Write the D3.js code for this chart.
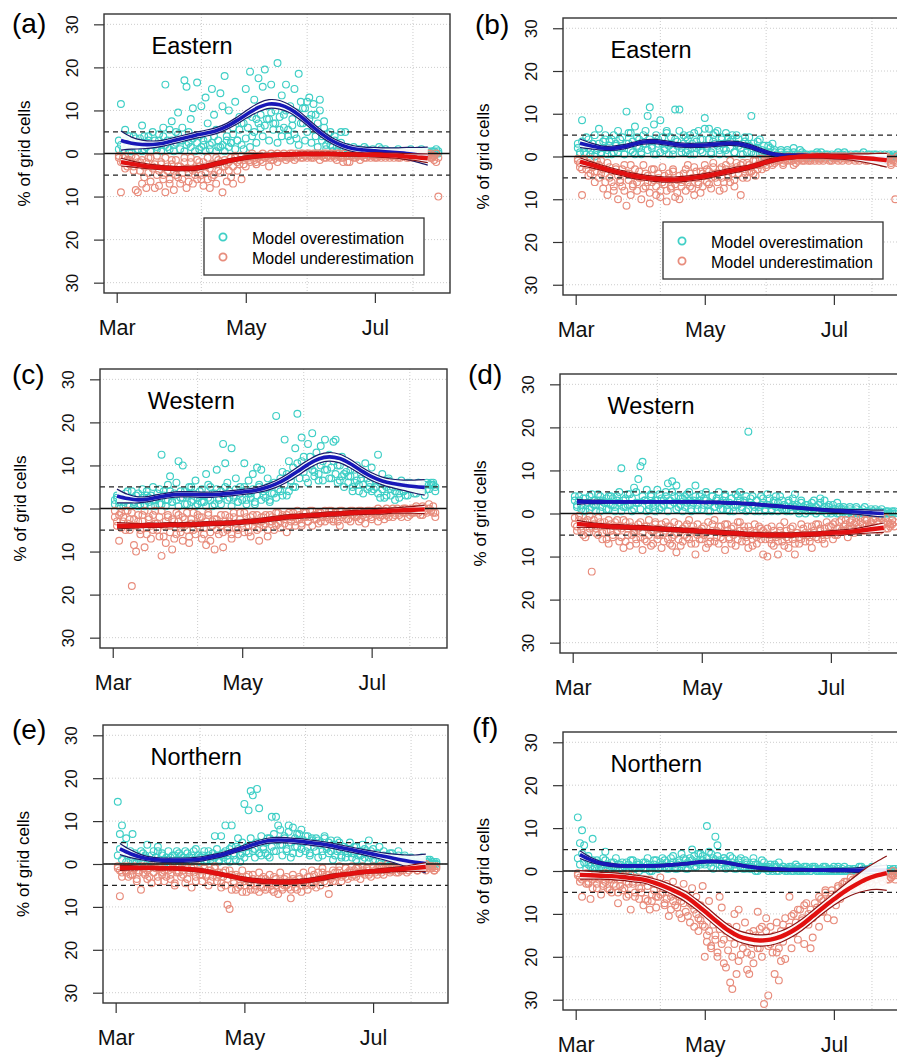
<!DOCTYPE html>
<html lang="en">
<head>
<meta charset="UTF-8">
<title>Model over- and underestimation by region</title>
<script src="https://cdnjs.cloudflare.com/ajax/libs/d3/7.8.5/d3.min.js"></script>
<style>
    body { margin: 0; background: #ffffff; }
    svg { display: block; font-family: "Liberation Sans", Arial, sans-serif; }
    .grid line { stroke: #cccccc; stroke-dasharray: 1,2; stroke-width: 1; }
    .axis path { display: none; }
    .axis line { stroke: #333; stroke-width: 1.2; }
    .axis text { fill: #111; }
    .frame { fill: none; stroke: #333; stroke-width: 1.4; }
</style>
</head>
<body>
<svg id="chart" width="897" height="1060"></svg>
<script>
    // x is day of year; two observations per day and series (two station sets)
    var obsDays = d3.range(61, 213);
    var fitDays = d3.range(62, 208, 5);
    var monthDays = [60, 121, 182];
    var monthLabels = ["Mar", "May", "Jul"];
    var yTicks = [-30, -20, -10, 0, 10, 20, 30];
    var gridDays = [100, 150, 200];
    var refLevels = [-5, 5];
    var legendLabels = ["Model overestimation", "Model underestimation"];

    // (a) Eastern
    var overA = [3, 11.5, 1, 5.5, 2, 0.5, 1.5, 4, 2.5, 1,
        3.5, 6.5, 1, 2, 4, 0.5, 2, 3, 1.5, 4.5,
        2, 6, 16, 3, 1, 7.5, 2, 5, 9.5, 3,
        6, 17, 15.5, 2.5, 8, 10.5, 4, 16.5, 1, 11,
        3, 13, 7, 2, 15, 9, 5.5, 1.5, 14, 11,
        18, 4, 10, 2.5, 6, 12, 3, 8.5, 7, 1,
        15, 9, 19, 4, 12.5, 8, 17.5, 6, 15.5, 19.5,
        11, 8, 16, 7, 10, 21, 5.5, 13.5, 9, 16,
        4, 11, 6.5, 15, 3.5, 18.5, 12, 7, 10.5, 5,
        13, 9, 11.5, 4, 7, 10, 3, 6, 2, 4.5,
        5, 1.5, 3, 0.5, 2, 5, 1, 0.5, 1.5, 0,
        1, 0.5, 0, 1, 0.5, 0, 0.5, 1, 0, 0.5,
        0, 0.5, 0, 0, 1, 0.5, 0, 0, 0.5, 0,
        0, 0.5, 0, 0, 0.5, 0, 0, 0.5, 0, 0,
        0.5, 0, 0, 0, 0.5, 0, 0, 0, 0.5, 0,
        0, 0.5];
    var over2A = [1, 2, 0.5, 3, 1.5, 4, 0.5, 2, 3.5, 1,
        2.5, 0.5, 4, 1.5, 3, 0.5, 5, 2, 1, 3,
        0.5, 4, 2, 1.5, 5.5, 3, 0.5, 2.5, 4.5, 1,
        3, 0.5, 2, 5, 1.5, 3.5, 0.5, 2.5, 4, 1.5,
        2, 0.5, 3.5, 1, 2.5, 4, 0.5, 3, 1.5, 2,
        0.5, 3, 1.5, 2.5, 4.5, 1, 3, 5.5, 2, 7,
        3.5, 6, 1.5, 8.5, 5, 2.5, 7, 9, 4, 6.5,
        8, 3, 9.5, 5.5, 7, 2.5, 8.5, 4, 6, 10,
        5.5, 3, 8, 4.5, 9.5, 2, 7, 10.5, 3, 12,
        8, 2.5, 5.5, 9, 1.5, 12.5, 4, 7.5, 1, 3,
        2, 0.5, 4, 1.5, 0, 2.5, 0.5, 5, 1, 0,
        0.5, 1.5, 0, 0.5, 1, 0, 1.5, 0, 0.5, 0,
        1, 0, 0.5, 1.5, 0, 0, 1, 0.5, 0, 0,
        0.5, 0, 1, 0, 0, 0.5, 0, 0, 1, 0,
        0, 0.5, 0, 1, 0, 0, 0.5, 0, 0, 0.5,
        1, 0];
    var underA = [-1, -9, -2, -0.5, -3, -1.5, -2, -4, -8.5, -9,
        -2, -7, -5.5, -8, -1, -6.5, -3, -8, -5, -7.5,
        -2.5, -6, -9, -4, -7, -1.5, -8.5, -5, -3, -7,
        -6, -2, -8, -4.5, -1, -7, -3.5, -6, -2, -5,
        -7.5, -3, -6, -8, -2.5, -5, -7, -1.5, -4.5, -9,
        -3, -6.5, -2, -5.5, -7, -1, -4, -2.5, -6, -1.5,
        -3, -1, -2, -0.5, -1.5, -2.5, -1, -0.5, -2, -1,
        -0.5, -3, -1.5, -0.5, -1, -2, -0.5, -1, -0.5, -1.5,
        -0.5, -1, 0, -0.5, -1, -0.5, 0, -1, -0.5, 0,
        -0.5, -1, 0, -0.5, 0, -1.5, -0.5, 0, -1, -0.5,
        0, -0.5, -1, 0, -0.5, -1, -2, 0, -0.5, -2,
        -0.5, 0, -1, -0.5, 0, -0.5, -1, 0, -0.5, -1,
        0, -0.5, -1, 0, -0.5, 0, -1, -0.5, 0, -0.5,
        -1, 0, -0.5, -1, 0, -0.5, 0, -1, -0.5, 0,
        -0.5, -1, 0, -0.5, -1, -0.5, 0, -1, -0.5, -1.5,
        -2, -10];
    var under2A = [-0.5, -2, -1, -3.5, -1.5, -2.5, -0.5, -3, -1, -2,
        -4, -1.5, -3, -2, -4.5, -1, -3.5, -2.5, -0.5, -4,
        -2, -5, -1, -3, -6, -2.5, -4, -1.5, -5.5, -3,
        -4.5, -1, -3.5, -6.5, -2, -4, -5, -1.5, -3, -6,
        -2, -4.5, -1, -3.5, -5.5, -2.5, -1, -4, -2, -3,
        -1.5, -2.5, -4, -1, -3, -0.5, -2, -1.5, -0.5, -2.5,
        -1, -0.5, -1.5, 0, -1, -2, -0.5, -1.5, 0, -1,
        -0.5, -1, 0, -1.5, -0.5, 0, -1, -0.5, 0, -0.5,
        -1, 0, -0.5, -1.5, 0, -0.5, -1, 0, -0.5, -1,
        0, -0.5, -1, 0, -0.5, 0, -0.5, -1, 0, -0.5,
        -1, 0, -0.5, -1.5, 0, -0.5, -1, 0, -2, -0.5,
        0, -1, -0.5, 0, -1.5, -0.5, 0, -1, -0.5, 0,
        -0.5, -1, 0, -0.5, -1, 0, -0.5, 0, -1, -0.5,
        0, -0.5, -1, 0, -0.5, 0, -1, -0.5, 0, -1,
        -0.5, 0, -1, -0.5, 0, -1, -0.5, 0, -1, -0.5,
        0, -1];
    var fitOverA = [3.0, 2.4, 2.1, 2.1, 2.4, 3.0, 3.6, 4.2, 4.7, 5.3, 6.3, 7.7, 9.3, 10.7, 11.5, 11.3, 10.3, 8.6, 6.5, 4.5, 2.9, 1.8, 1.1, 0.8, 0.6, 0.4, 0.2, 0.0, -0.3, -0.6];
    var bandOverA = [2.2, 1.4, 1.0, 0.8, 0.7, 0.7, 0.7, 0.7, 0.7, 0.7, 0.7, 0.8, 0.9, 1.0, 1.0, 1.0, 0.9, 0.9, 0.8, 0.8, 0.7, 0.7, 0.7, 0.7, 0.8, 0.9, 1.1, 1.4, 1.7, 2.1];
    var fitUnderA = [-2.0, -2.4, -2.8, -3.1, -3.3, -3.5, -3.5, -3.4, -3.0, -2.4, -1.8, -1.3, -0.9, -0.6, -0.4, -0.3, -0.2, -0.1, -0.1, -0.1, -0.1, -0.2, -0.2, -0.3, -0.3, -0.4, -0.5, -0.7, -0.9, -1.1];
    var bandUnderA = [0.9, 0.7, 0.6, 0.5, 0.5, 0.5, 0.5, 0.5, 0.5, 0.5, 0.5, 0.4, 0.4, 0.4, 0.4, 0.4, 0.4, 0.4, 0.4, 0.4, 0.4, 0.4, 0.4, 0.4, 0.5, 0.5, 0.6, 0.7, 0.8, 1.0];

    // (b) Eastern
    var overB = [3, 1, 8.5, 2, 0.5, 4, 1.5, 3, 0, 2,
        6.5, 1, 3.5, 5, 0.5, 2.5, 4, 1, 3, 6,
        2, 4.5, 0.5, 10.5, 3, 5.5, 1, 7, 2.5, 4,
        1, 5, 3, 9.5, 11.5, 2, 7.5, 0.5, 4, 8.5,
        3, 1.5, 6, 2.5, 4.5, 0.5, 11, 3.5, 11, 2,
        5, 1, 4, 0.5, 3, 5.5, 2, 6, 1.5, 4,
        9, 2.5, 6.5, 0.5, 5, 3, 6, 1.5, 4.5, 2,
        5.5, 0.5, 3.5, 4, 1, 5, 2.5, 0.5, 3, 4.5,
        1, 2.5, 9.5, 0.5, 2, 3.5, 0.5, 1.5, 0, 1,
        2.5, 0, 3, 1, 0.5, 0, 1.5, 0.5, 0, 1,
        0.5, 0, 2, 0.5, 0, 1.5, 0.5, 0, 0.5, 0,
        0, 0.5, 0, 1, 0.5, 0, 0, 0.5, 0, 0,
        0.5, 0, 0, 1, 0.5, 0, 0, 0.5, 0, 0,
        0, 0.5, 0, 0, 0.5, 0, 0, 0, 0.5, 0,
        0, 0.5, 0, 0, 0, 0.5, 0, 0, 0, 0.5,
        0, 0];
    var over2B = [2, 0.5, 3.5, 1, 4.5, 2, 0.5, 3, 5, 1.5,
        3, 0.5, 2, 4, 1.5, 3.5, 0.5, 5, 2.5, 1,
        4, 2, 0.5, 3, 5.5, 1.5, 3.5, 0.5, 4.5, 2,
        0.5, 3, 6, 1.5, 4, 2.5, 0.5, 5, 3, 1,
        4.5, 2, 5.5, 0.5, 3, 1.5, 4, 2.5, 6, 1,
        3, 4.5, 1.5, 5, 2, 0.5, 3.5, 2.5, 4, 1,
        6.5, 2, 4, 1, 3.5, 5.5, 2.5, 0.5, 4, 3,
        1.5, 4.5, 2, 5, 1, 3, 4, 2, 0.5, 3.5,
        2.5, 4.5, 1, 3, 0.5, 2, 4, 1, 2.5, 0.5,
        1, 2, 0, 1.5, 0.5, 0, 1, 0, 0.5, 1.5,
        0, 0.5, 1, 0, 0.5, 0, 1, 0.5, 0, 0,
        0.5, 0, 0, 0.5, 0, 1, 0, 0, 0.5, 0,
        0, 0, 0.5, 0, 0, 0.5, 1, 0, 0, 0.5,
        0, 0, 0.5, 0, 0, 1, 0, 0.5, 0, 0,
        0.5, 0, 0, 0.5, 0, 0, 0, 0.5, 0, 0,
        0, 0.5];
    var underB = [-1, -2.5, -9, -0.5, -3, -1.5, -4, -2, -6, -3.5,
        -5, -1, -7.5, -4, -9, -2.5, -6, -8, -3, -10,
        -5.5, -7, -2, -11.5, -4, -9, -6.5, -3, -8, -5,
        -10, -2, -7, -4.5, -11, -6, -3, -9, -5, -8,
        -2.5, -6.5, -10.5, -4, -7, -3, -9.5, -5.5, -10, -6,
        -4, -8, -2, -7, -5, -9, -3.5, -6, -8.5, -4,
        -2, -6, -3.5, -7.5, -1.5, -5, -4, -8, -2.5, -6,
        -3, -5, -1, -4, -7, -2.5, -3, -9, -1.5, -4,
        -5, -2, -3.5, -1, -4.5, -2, -0.5, -3, -1, -2,
        -0.5, -1.5, -0.5, -1, 0, -1, -0.5, -2, -1, 0,
        -0.5, -1, -2, -0.5, -1, 0, -0.5, -1, 0, -0.5,
        -1, 0, -0.5, 0, -1, -0.5, 0, -0.5, 0, -1,
        0, -0.5, 0, -1, -0.5, 0, 0, -0.5, -1, 0,
        -0.5, 0, 0, -1, 0, -0.5, 0, -1, -0.5, 0,
        -0.5, -1, 0, -0.5, -1.5, 0, -0.5, -1, -2, -1,
        -10, -1.5];
    var under2B = [-0.5, -1.5, -3, -1, -2, -4.5, -0.5, -2.5, -3.5, -1,
        -2, -4, -3, -6, -1.5, -5, -3.5, -7, -2.5, -4.5,
        -6, -3, -8, -4, -5.5, -2, -7, -4.5, -6, -3.5,
        -5, -7.5, -4, -6, -8.5, -3, -5.5, -7, -4, -9.5,
        -6, -4.5, -8, -5, -7.5, -3.5, -6.5, -8.5, -4.5, -7,
        -5.5, -3, -6, -4, -7.5, -2.5, -5, -6.5, -3.5, -7,
        -4.5, -3, -6.5, -5, -2.5, -4, -6, -3, -5, -7.5,
        -2, -4.5, -6, -3, -5.5, -1.5, -4, -2, -5, -3,
        -1.5, -3.5, -2.5, -4, -1, -3, -2, -0.5, -1.5, -2.5,
        -1, -0.5, -2, -1.5, -0.5, -1, 0, -1.5, -0.5, -1,
        0, -1, -0.5, -1.5, 0, -0.5, -1, 0, -0.5, -1,
        -0.5, 0, -1, 0, -0.5, 0, -1, -0.5, 0, -0.5,
        -1, 0, -0.5, 0, 0, -1, -0.5, 0, -0.5, 0,
        0, -1, -0.5, 0, -0.5, 0, -1, 0, 0, -0.5,
        -1, 0, -0.5, 0, -0.5, -1, 0, -0.5, -1.5, -0.5,
        -1, 0];
    var fitOverB = [3.1, 2.5, 2.0, 1.9, 2.2, 2.8, 3.4, 3.5, 3.2, 2.8, 2.6, 2.6, 2.7, 2.9, 3.1, 3.0, 2.4, 1.5, 0.7, 0.3, 0.2, 0.2, 0.1, 0.1, 0.0, 0.0, -0.1, -0.2, -0.3, -0.5];
    var bandOverB = [1.0, 0.7, 0.5, 0.5, 0.5, 0.5, 0.5, 0.5, 0.5, 0.5, 0.5, 0.5, 0.5, 0.5, 0.5, 0.5, 0.5, 0.5, 0.4, 0.4, 0.4, 0.4, 0.4, 0.4, 0.5, 0.5, 0.6, 0.7, 0.9, 1.2];
    var fitUnderB = [-1.2, -1.9, -2.6, -3.3, -3.9, -4.5, -4.9, -5.2, -5.4, -5.4, -5.2, -4.9, -4.5, -4.0, -3.5, -3.0, -2.5, -1.8, -1.0, -0.5, -0.2, 0.0, 0.1, 0.1, 0.0, -0.1, -0.2, -0.4, -0.6, -0.9];
    var bandUnderB = [0.9, 0.7, 0.6, 0.6, 0.6, 0.6, 0.6, 0.6, 0.6, 0.6, 0.6, 0.6, 0.6, 0.6, 0.6, 0.6, 0.5, 0.5, 0.5, 0.4, 0.4, 0.4, 0.4, 0.5, 0.5, 0.6, 0.8, 1.0, 1.3, 1.6];

    // (c) Western
    var overC = [2, 3, 1.5, 2.5, 0.5, 3.5, 1, 2, 4, 1.5,
        3, 0.5, 2, 4.5, 1, 3, 2.5, 0.5, 5, 2,
        3.5, 1, 12.5, 4, 2, 5.5, 7.5, 1.5, 3, 6,
        11, 2.5, 10, 4, 1, 3.5, 5, 2, 6.5, 1,
        3, 4.5, 1.5, 8, 2.5, 5, 0.5, 3.5, 9, 2,
        4, 15, 10.5, 6, 2.5, 14, 3, 7, 1.5, 5,
        4, 10.5, 2, 6.5, 3.5, 8, 1, 9.5, 5, 9,
        3, 4.5, 7, 2, 5.5, 3.5, 21.5, 6, 4, 8.5,
        16, 3, 11, 7.5, 5, 14, 22, 9, 16.5, 12,
        7, 15, 10, 17.5, 8.5, 13, 6.5, 14.5, 11, 16,
        9, 12.5, 7, 15.5, 16, 10, 6.5, 12, 8, 11,
        7.5, 9, 4, 6, 10, 5.5, 8, 3.5, 10.5, 7,
        5, 9.5, 4.5, 6.5, 12.5, 2.5, 8, 5.5, 3, 7,
        4.5, 6, 2, 5, 3.5, 6.5, 4, 5.5, 3, 6,
        4.5, 5, 3.5, 6, 5, 4, 5.5, 6, 4.5, 5.5,
        6, 5];
    var over2C = [1, 2.5, 0.5, 3, 1.5, 2, 4, 0.5, 2.5, 1,
        2, 3.5, 1, 2.5, 0.5, 4, 1.5, 3, 2, 0.5,
        2.5, 4.5, 1, 3, 0.5, 2, 4, 1.5, 3.5, 2,
        0.5, 4, 2.5, 1, 3, 5, 1.5, 3.5, 0.5, 2.5,
        4, 1.5, 3, 0.5, 5.5, 2, 3.5, 1, 4.5, 2.5,
        1, 3, 5, 2, 4, 0.5, 2.5, 4.5, 1.5, 3.5,
        2, 5, 1, 3.5, 2.5, 4.5, 1.5, 3, 5.5, 2,
        4, 2.5, 5, 1.5, 3.5, 6, 2.5, 4.5, 7, 3,
        5.5, 8, 4, 6.5, 9.5, 5, 10.5, 7, 11, 8.5,
        10, 6, 12, 9, 7.5, 11.5, 8, 10, 6.5, 9,
        12, 7, 9.5, 11, 8, 6, 10, 7.5, 5, 8.5,
        6, 7.5, 5, 9, 6.5, 4, 7, 5.5, 8, 4.5,
        6, 4, 7, 5, 3.5, 6, 4.5, 2.5, 5, 6.5,
        3, 5, 4, 6, 2.5, 5.5, 4, 3, 6, 4.5,
        5, 3.5, 4.5, 6, 4, 5, 3, 4.5, 5.5, 6,
        5.5, 4];
    var underC = [-2, -4, -7.5, -1, -3, -5, -0.5, -2.5, -18, -8.5,
        -10, -3, -6, -1.5, -9, -4.5, -2, -7, -5, -0.5,
        -3.5, -6.5, -11, -4, -8, -2, -5.5, -9.5, -3, -6,
        -1.5, -4.5, -7.5, -2.5, -5, -8, -3.5, -1, -6, -4,
        -2, -7, -4.5, -8.5, -1, -5.5, -3, -9.5, -2.5, -6,
        -4, -9, -1.5, -5, -3, -7, -2, -4.5, -6, -1,
        -3.5, -5.5, -2, -4, -6.5, -1.5, -3, -5, -7.5, -2,
        -4, -1.5, -6.5, -3, -2, -5, -1, -3.5, -4.5, -1.5,
        -2.5, -5.5, -1, -3, -2, -4, -0.5, -2.5, -3.5, -1,
        -2, -3, -0.5, -4, -1.5, -2.5, -1, -3, -2, -0.5,
        -1.5, -2.5, -0.5, -3, -1, -2, -4, -0.5, -1.5, -2.5,
        -1, -3, -0.5, -2, -1.5, -0.5, -2.5, -1, -3.5, -0.5,
        -1.5, -2, -0.5, -1, -3, -0.5, -1.5, -2.5, 0, -1,
        -0.5, -2, -1, 0, -1.5, -0.5, -1, 0, -2, -0.5,
        0, -1, 0.5, -0.5, 0, -1.5, 0, -0.5, 1, -0.5,
        -1, -2];
    var under2C = [-0.5, -3, -1.5, -4.5, -2, -0.5, -3.5, -5, -1, -2.5,
        -4, -1.5, -5, -3, -0.5, -6, -2.5, -4, -1.5, -3.5,
        -5, -2, -0.5, -6.5, -3, -1.5, -4, -2.5, -7, -1,
        -3, -5.5, -2, -4, -1, -6.5, -2.5, -5, -3.5, -1.5,
        -4.5, -2, -6, -3, -1.5, -7.5, -4, -2.5, -5, -3.5,
        -1.5, -5.5, -3, -4.5, -2, -6, -1, -3.5, -5, -2.5,
        -4.5, -1, -3, -5.5, -2, -4, -3, -1.5, -4.5, -3,
        -2, -3.5, -5, -1.5, -3, -2.5, -4, -1, -3, -2,
        -3.5, -1.5, -4, -2, -1, -3, -2.5, -1.5, -4, -2,
        -1, -3, -2, -0.5, -2.5, -1.5, -3.5, -1, -2, -3,
        -2, -0.5, -1.5, -2.5, -1, -3, -0.5, -2, -1.5, -1,
        -2.5, -0.5, -1.5, -1, -2, -3, -0.5, -1.5, -2, -1,
        -0.5, -2.5, -1, -1.5, 0, -2, -1, -0.5, -1.5, -2,
        -1, 0, -1.5, -0.5, -1, -2, 0, -1, -0.5, -1.5,
        -1, -0.5, 0, -1, -1.5, 0.5, -0.5, -1, 0, -0.5,
        0.5, -1];
    var fitOverC = [2.9, 2.3, 2.0, 2.2, 2.7, 3.1, 3.3, 3.3, 3.2, 3.2, 3.4, 3.6, 3.9, 4.2, 4.8, 5.7, 7.0, 8.6, 10.2, 11.5, 12.0, 11.6, 10.4, 8.8, 7.4, 6.4, 5.8, 5.4, 5.1, 4.9];
    var bandOverC = [1.6, 1.0, 0.7, 0.6, 0.6, 0.6, 0.6, 0.6, 0.6, 0.6, 0.6, 0.6, 0.6, 0.6, 0.7, 0.8, 0.9, 1.0, 1.0, 1.0, 1.0, 1.0, 1.0, 0.9, 0.9, 0.9, 1.0, 1.2, 1.5, 1.8];
    var fitUnderC = [-4.0, -4.0, -4.0, -3.9, -3.9, -3.8, -3.8, -3.7, -3.6, -3.5, -3.4, -3.3, -3.1, -2.9, -2.6, -2.3, -2.0, -1.8, -1.6, -1.5, -1.3, -1.2, -1.0, -0.9, -0.8, -0.7, -0.5, -0.4, -0.3, -0.2];
    var bandUnderC = [0.7, 0.6, 0.5, 0.5, 0.5, 0.5, 0.5, 0.5, 0.5, 0.5, 0.5, 0.5, 0.5, 0.5, 0.5, 0.5, 0.5, 0.5, 0.5, 0.5, 0.5, 0.5, 0.5, 0.5, 0.5, 0.6, 0.6, 0.7, 0.8, 1.0];

    // (d) Western
    var overD = [3, 1.5, 4, 2, 0.5, 3.5, 2.5, 1, 4.5, 2,
        0.5, 3, 4, 1.5, 2.5, 3.5, 1, 4, 2, 0.5,
        3, 5, 10.5, 1.5, 3.5, 2, 4.5, 0.5, 6, 2.5,
        8, 11, 12, 3, 5.5, 1, 4, 2.5, 0.5, 3,
        4.5, 1.5, 3, 5, 7, 2, 7.5, 4, 6.5, 1.5,
        3.5, 0.5, 4, 2.5, 5, 1, 3, 6.5, 2, 4,
        1, 3.5, 5, 2, 0.5, 4, 1.5, 3, 5, 2.5,
        1, 4, 2, 0.5, 3.5, 1.5, 4.5, 2, 5, 1,
        3, 0.5, 19, 2.5, 4, 1.5, 3, 0.5, 2, 3.5,
        1, 4.5, 2, 0.5, 3, 1.5, 2.5, 4, 1, 2,
        0.5, 3, 1.5, 2, 4.5, 1, 0.5, 2.5, 1.5, 0,
        2, 1, 0.5, 3, 1.5, 0.5, 2.5, 1, 3, 0,
        1.5, 0.5, 2, 1, 0, 1.5, 0.5, 1, 0, 0.5,
        1, 0, 0.5, 1.5, 0, 0.5, 1, 0, 0.5, 0,
        0, 0.5, 1, 0, 0.5, 0, 0, 0.5, 0, 0,
        0.5, 0];
    var over2D = [4, 2, 3, 1, 3.5, 0.5, 2.5, 4, 1.5, 3,
        2, 4.5, 0.5, 3, 2.5, 1, 4, 2, 3.5, 1.5,
        4, 2.5, 0.5, 3, 1.5, 4.5, 2, 3.5, 1, 5,
        2.5, 1, 4, 3, 0.5, 2, 4.5, 1.5, 3, 5.5,
        1, 3.5, 2, 4, 0.5, 3, 5, 2.5, 1, 4,
        2, 3.5, 1.5, 4.5, 3, 0.5, 2.5, 4, 1, 3,
        4.5, 2, 3, 0.5, 2.5, 4, 1.5, 3.5, 2, 1,
        3, 4.5, 1, 2.5, 3.5, 0.5, 2, 4, 3, 1.5,
        2.5, 4, 1, 3.5, 2, 0.5, 3, 1.5, 4, 2.5,
        0.5, 2, 3.5, 1, 2.5, 4, 0.5, 1.5, 3, 2,
        1, 2.5, 0.5, 3.5, 1.5, 2, 0, 3, 1, 2,
        0.5, 1.5, 2.5, 1, 0, 2, 3.5, 0.5, 1.5, 1,
        2, 0, 1, 0.5, 2.5, 0, 1, 1.5, 0.5, 0,
        1.5, 0.5, 0, 1, 0, 0.5, 0, 1.5, 0, 0.5,
        1, 0, 0, 0.5, 0, 1, 0, 0, 0.5, 0,
        0, 0.5];
    var underD = [-1, -3, -0.5, -4, -2, -5.5, -1.5, -3.5, -13.5, -2.5,
        -4.5, -1, -3, -6, -2, -4, -7, -2.5, -5, -3,
        -1.5, -6.5, -3.5, -8, -2, -5, -7.5, -3, -4.5, -6,
        -2.5, -5.5, -8.5, -3, -6.5, -1.5, -4, -7, -2, -5,
        -3.5, -8, -4.5, -2, -6, -3, -7.5, -5, -9, -2.5,
        -4, -6.5, -3, -5.5, -1.5, -7, -4, -9.5, -2.5, -6,
        -3.5, -5, -8, -2, -6.5, -4, -1.5, -5.5, -7, -3,
        -4.5, -8.5, -2.5, -6, -3.5, -5, -7.5, -2, -4, -6.5,
        -3, -5.5, -8, -4, -6, -2.5, -7, -5, -3.5, -9.5,
        -4.5, -10, -6, -3, -7.5, -5, -9.5, -4, -6.5, -2,
        -5.5, -8, -3.5, -6, -9.5, -4.5, -7, -2.5, -5, -6.5,
        -3, -5.5, -8, -4, -2.5, -6, -3.5, -5, -7, -2,
        -4.5, -3, -6, -2, -5, -3.5, -1.5, -4, -2.5, -5.5,
        -3, -1.5, -4.5, -2, -3.5, -1, -2.5, -4, -1.5, -3,
        -2, -3.5, -1, -2.5, -0.5, -3, -2, -1, -3.5, -2.5,
        -1.5, -3];
    var under2D = [-2.5, -4, -1.5, -3, -5, -2, -4.5, -0.5, -3, -1.5,
        -3.5, -5, -2, -4.5, -3, -6, -1.5, -4, -5.5, -2,
        -4, -3, -5.5, -1.5, -6.5, -3.5, -2, -5, -4, -7,
        -3.5, -2, -4.5, -6, -3, -5, -7.5, -4, -2.5, -6,
        -5, -2.5, -6.5, -4, -3, -7, -5.5, -2, -4.5, -6,
        -7.5, -3.5, -5, -2.5, -6, -4.5, -3, -7, -5, -4,
        -6, -3, -4.5, -7, -5.5, -2.5, -6.5, -4, -3, -5.5,
        -6, -2.5, -4, -5.5, -7, -3, -4.5, -6, -2, -5,
        -4, -6.5, -3, -5, -7.5, -4.5, -5.5, -3, -6, -4,
        -6, -3.5, -5, -7, -4, -5.5, -6.5, -3, -5, -7.5,
        -4, -6, -5, -3, -7, -4.5, -5.5, -6, -3.5, -4.5,
        -5, -6.5, -3, -4.5, -5.5, -2.5, -4, -6, -3.5, -5,
        -3, -4.5, -2.5, -5, -3.5, -2, -4, -3, -1.5, -3.5,
        -2, -3.5, -2.5, -1, -3, -2, -4, -1.5, -2.5, -3,
        -2.5, -1.5, -3, -2, -4, -1, -2.5, -3.5, -2, -3,
        -2.5, -2];
    var fitOverD = [2.7, 2.7, 2.7, 2.7, 2.7, 2.7, 2.7, 2.7, 2.7, 2.7, 2.7, 2.7, 2.6, 2.6, 2.5, 2.4, 2.3, 2.1, 1.9, 1.7, 1.5, 1.3, 1.1, 0.9, 0.7, 0.6, 0.4, 0.3, 0.1, 0.0];
    var bandOverD = [0.6, 0.4, 0.4, 0.3, 0.3, 0.3, 0.3, 0.3, 0.3, 0.3, 0.3, 0.3, 0.3, 0.3, 0.3, 0.3, 0.3, 0.3, 0.3, 0.3, 0.3, 0.3, 0.3, 0.3, 0.4, 0.4, 0.5, 0.6, 0.7, 0.8];
    var fitUnderD = [-2.4, -2.6, -2.8, -3.0, -3.1, -3.2, -3.3, -3.4, -3.6, -3.7, -3.9, -4.0, -4.2, -4.3, -4.5, -4.6, -4.8, -4.9, -5.0, -5.0, -5.0, -4.9, -4.8, -4.7, -4.5, -4.4, -4.2, -3.9, -3.6, -3.3];
    var bandUnderD = [0.8, 0.6, 0.5, 0.5, 0.5, 0.5, 0.5, 0.5, 0.5, 0.5, 0.5, 0.5, 0.5, 0.5, 0.5, 0.5, 0.5, 0.5, 0.5, 0.5, 0.5, 0.5, 0.5, 0.5, 0.5, 0.6, 0.6, 0.7, 0.9, 1.1];

    // (e) Northern
    var overE = [14.5, 7, 9, 3, 6, 2, 1, 7, 2.5, 0.5,
        1.5, 3, 0.5, 2, 4.5, 1, 0.5, 3, 1.5, 4,
        0.5, 2, 1, 0.5, 3, 1.5, 0, 2, 1, 2.5,
        0.5, 1.5, 3, 1, 0.5, 2, 1, 3.5, 0.5, 1.5,
        2, 0.5, 1, 3, 1.5, 0.5, 6.5, 2, 1, 6.5,
        2.5, 9, 1, 3.5, 9, 2, 4, 6, 0.5, 2.5,
        14, 3, 12.5, 17, 16, 3.5, 17.5, 13, 2, 4,
        2.5, 6, 1.5, 11, 3, 11, 9, 4.5, 2, 6,
        3.5, 9, 1.5, 8.5, 4, 7, 2.5, 8, 5, 3,
        6.5, 2, 5.5, 4, 6, 1.5, 5, 3, 6.5, 4,
        2.5, 5.5, 1, 4.5, 3, 5, 2, 4, 1.5, 3.5,
        5, 2.5, 4, 1, 3, 2, 4.5, 1.5, 3, 5.5,
        2, 3.5, 1, 2.5, 4, 1.5, 3, 0.5, 2, 1,
        2.5, 0.5, 1.5, 3, 1, 0.5, 2, 1, 0, 1.5,
        0.5, 1, 0, 0.5, 1.5, 0, 0.5, 1, 0, 0.5,
        0.5, 0];
    var over2E = [2, 3.5, 1, 4.5, 0.5, 2.5, 3, 1.5, 0.5, 2,
        1, 0.5, 2.5, 1.5, 0, 1, 2, 0.5, 1.5, 3,
        1, 2.5, 0.5, 1.5, 1, 0, 2, 0.5, 3, 1,
        2, 0.5, 1, 2.5, 1.5, 0.5, 3, 1, 2, 0.5,
        1.5, 3, 0.5, 2, 1, 2.5, 1.5, 3.5, 0.5, 2,
        1.5, 3, 2, 0.5, 4, 2.5, 1, 3.5, 2, 5,
        1.5, 4, 2.5, 6, 3, 1.5, 5, 2.5, 6.5, 3.5,
        5, 2, 6, 4, 7, 3, 5.5, 8, 4.5, 6.5,
        3, 7.5, 5, 2.5, 6, 4, 7, 3.5, 5.5, 6.5,
        4, 2.5, 6, 5, 3, 5.5, 4.5, 2, 6, 3.5,
        5, 3, 4.5, 2, 5.5, 3.5, 1.5, 4, 3, 2.5,
        3.5, 1.5, 2.5, 4, 2, 3, 1, 3.5, 2.5, 1.5,
        3, 1, 2, 2.5, 0.5, 1.5, 2, 1, 0.5, 2.5,
        1, 1.5, 0, 2, 0.5, 1, 1.5, 0, 1, 0.5,
        0, 1, 0.5, 0, 1, 0.5, 0, 0.5, 1, 0,
        0, 0.5];
    var underE = [-1, -7.5, -2, -0.5, -1.5, -3, -1, -2.5, -0.5, -4,
        -1.5, -6, -2, -0.5, -3.5, -1, -4.5, -2, -0.5, -3,
        -1, -2.5, -4, -0.5, -1.5, -3.5, -1, -5, -2, -0.5,
        -3, -1.5, -4.5, -1, -2, -5.5, -0.5, -3, -1.5, -2.5,
        -4, -1, -2.5, -5, -1.5, -3, -0.5, -4, -2, -5.5,
        -3, -1.5, -9.5, -10.5, -2.5, -4.5, -6, -3, -5, -1.5,
        -4, -6.5, -2.5, -5, -3.5, -6, -4.5, -2, -5.5, -3,
        -6, -4, -2.5, -5, -6.5, -3.5, -4.5, -2, -6, -5,
        -3, -5.5, -8, -2.5, -4, -6, -3.5, -5, -2, -4.5,
        -6, -3, -1.5, -4.5, -5.5, -2, -3.5, -1, -4, -2.5,
        -7, -3, -1.5, -4, -2, -0.5, -3, -2.5, -1, -3.5,
        -2, -0.5, -1.5, -3, -1, -2, -0.5, -2.5, -1, -1.5,
        -3, -0.5, -2, -1, -1.5, -0.5, -2.5, -1, 0, -1.5,
        -0.5, -1, -2, 0, -1.5, -0.5, -1, -2, -0.5, 0,
        -1, -0.5, -1.5, 0, -0.5, -1, 0, -0.5, -1, -0.5,
        -1.5, -1];
    var under2E = [-0.5, -1.5, -3, -1, -2, -0.5, -2.5, -1.5, -1, -3.5,
        -2, -0.5, -1, -2.5, -1.5, -3, -0.5, -2, -1, -4,
        -0.5, -2, -1.5, -3, -0.5, -2.5, -1, -4.5, -1.5, -2,
        -1, -2.5, -0.5, -3.5, -1.5, -1, -2, -4, -0.5, -1.5,
        -2.5, -1, -3, -1.5, -4, -2, -1, -3, -2.5, -4.5,
        -2, -5, -3.5, -1.5, -6, -4, -2.5, -5.5, -3, -6.5,
        -5, -3, -4, -6, -2.5, -5, -4.5, -6.5, -3.5, -5.5,
        -3.5, -5.5, -4.5, -6, -3, -5, -7, -4, -5.5, -3.5,
        -5, -4, -6, -3.5, -5.5, -4.5, -3, -6.5, -4, -5,
        -3, -4.5, -5, -2.5, -4, -3.5, -5, -2, -3, -4.5,
        -2.5, -3.5, -4, -2, -3, -1.5, -4, -2.5, -3, -2,
        -1.5, -3, -2.5, -1, -2, -3.5, -1.5, -2, -1, -2.5,
        -2, -1, -1.5, -2.5, -0.5, -2, -1, -1.5, -1, -2,
        -1.5, -0.5, -1, -2, -0.5, -1.5, -1, -0.5, -1.5, -1,
        -0.5, -1, -1.5, -0.5, -1, -0.5, -1.5, -1, -0.5, -1,
        -1.5, -0.5];
    var fitOverE = [3.5, 2.4, 1.6, 1.1, 0.9, 0.9, 0.9, 1.0, 1.3, 1.8, 2.4, 3.2, 4.0, 4.8, 5.4, 5.6, 5.5, 5.3, 5.0, 4.7, 4.3, 3.8, 3.3, 2.8, 2.3, 1.8, 1.3, 0.8, 0.4, 0.1];
    var bandOverE = [1.3, 0.9, 0.6, 0.5, 0.5, 0.5, 0.5, 0.5, 0.5, 0.5, 0.5, 0.5, 0.6, 0.6, 0.6, 0.6, 0.6, 0.6, 0.6, 0.6, 0.6, 0.6, 0.6, 0.6, 0.7, 0.8, 1.0, 1.3, 1.7, 2.2];
    var fitUnderE = [-0.9, -0.9, -0.9, -0.9, -1.0, -1.0, -1.1, -1.3, -1.6, -2.1, -2.6, -3.1, -3.6, -3.9, -4.1, -4.2, -4.2, -4.1, -3.8, -3.4, -2.9, -2.5, -2.2, -1.9, -1.7, -1.5, -1.3, -1.1, -0.9, -0.7];
    var bandUnderE = [0.6, 0.5, 0.4, 0.4, 0.4, 0.4, 0.4, 0.4, 0.4, 0.4, 0.4, 0.4, 0.5, 0.5, 0.5, 0.5, 0.5, 0.5, 0.5, 0.5, 0.5, 0.4, 0.4, 0.4, 0.4, 0.5, 0.5, 0.6, 0.8, 1.0];

    // (f) Northern
    var overF = [12.5, 6.5, 9.5, 6, 3, 1.5, 2, 7.5, 1, 2.5,
        0.5, 1.5, 3, 4.5, 1, 0.5, 2, 1, 3, 0.5,
        1.5, 0.5, 1, 2, 0, 1, 2.5, 0.5, 1.5, 0,
        1, 2, 0.5, 3, 1, 0, 1.5, 2.5, 0.5, 1,
        3, 1, 2, 0.5, 1.5, 3.5, 1, 0.5, 2, 4,
        1.5, 2.5, 0.5, 3, 5, 1, 2, 4, 1.5, 3.5,
        2, 10.5, 4.5, 1, 3, 8, 6, 2.5, 1, 3,
        0.5, 2, 1, 3, 1.5, 0.5, 2.5, 3, 1, 0.5,
        2, 1, 0.5, 3, 1.5, 0, 1, 2.5, 0.5, 1,
        0, 1.5, 0.5, 1, 0, 2, 0.5, 1, 0, 0.5,
        1, 0, 0.5, 1.5, 0, 0.5, 0, 1, 0, 0.5,
        0, 1, 0.5, 0, 0.5, 0, 1, 0, 0.5, 0,
        0.5, 0, 0, 1, 0, 0.5, 0, 0, 0.5, 0,
        0, 0.5, 0, 0, 1, 0, 0, 0.5, 0, 0,
        0, 0, 0.5, 0, 0, 0.5, 0, 0, 0, 0.5,
        0, 0];
    var over2F = [3, 1.5, 4, 2, 0.5, 3.5, 1, 2.5, 0.5, 1.5,
        2, 1, 0.5, 2.5, 1.5, 0, 1, 2, 0.5, 1.5,
        0.5, 2, 1, 0, 1.5, 2.5, 0.5, 1, 2, 1.5,
        1, 0.5, 2, 1.5, 0, 1, 2.5, 1, 0.5, 2,
        1.5, 2.5, 0.5, 1, 3, 2, 0.5, 1.5, 2.5, 1,
        3, 0.5, 2, 1.5, 2.5, 3.5, 1, 2, 4, 2.5,
        1.5, 3, 2, 4, 0.5, 2.5, 3.5, 1.5, 2, 3,
        2.5, 1, 3.5, 2, 0.5, 1.5, 2, 1, 0.5, 2.5,
        1.5, 0.5, 1, 2, 0, 1.5, 0.5, 1, 2, 0.5,
        1, 0.5, 0, 1.5, 1, 0, 0.5, 1, 0.5, 0,
        0.5, 1, 0, 0.5, 1, 0, 0.5, 0, 1, 0.5,
        0, 0.5, 1, 0, 0, 0.5, 0, 1, 0, 0.5,
        0, 1, 0, 0.5, 0, 0, 1, 0, 0.5, 0,
        0.5, 0, 0, 1, 0, 0.5, 0, 0, 0.5, 1,
        0, 0, 1, 0, 0.5, 0, 0, 0.5, 0, 0,
        0.5, 0];
    var underF = [-1, -2.5, -6, -1.5, -0.5, -3, -6.5, -2, -1, -4,
        -1.5, -5.5, -3, -0.5, -4, -2, -5, -1, -3.5, -7.5,
        -2, -4.5, -1, -6, -3, -9, -2.5, -5, -1.5, -6.5,
        -4, -8, -2, -7, -9, -5.5, -3, -8.5, -6, -1.5,
        -5, -7.5, -3, -10.5, -6, -2.5, -8, -4.5, -10, -7,
        -3, -5.5, -10.5, -7.5, -4, -9, -6, -11, -8, -3.5,
        -20, -15, -7, -17.5, -11, -16, -20, -6, -8.5, -21.5,
        -22.5, -13, -26, -27.5, -10, -24, -9, -19.5, -15, -12,
        -23, -24, -19.5, -14, -16, -9.5, -18, -13, -31, -11,
        -29, -17, -15.5, -24, -19, -25.5, -21, -12.5, -20.5, -14,
        -6, -18, -10, -13.5, -16, -9, -11, -17, -7.5, -12.5,
        -18, -15.5, -10, -8.5, -13, -6.5, -9.5, -4.5, -11, -7,
        -5.5, -11.5, -8, -4, -6.5, -3, -5, -2.5, -4.5, -1.5,
        -3.5, -2, -4, -1, -3, -2.5, -0.5, -2, -1.5, -3,
        -1, -2, -0.5, -1.5, -2.5, -1, -0.5, -2, -1.5, -1,
        -2, -0.5];
    var under2F = [-0.5, -1.5, -2, -1, -3, -2.5, -1, -4, -1.5, -3,
        -2, -1, -3.5, -2.5, -1.5, -4.5, -2, -3, -1, -5,
        -3.5, -1.5, -4, -2.5, -5.5, -1, -3, -6, -2, -4,
        -5, -2.5, -6.5, -3.5, -2, -7, -4.5, -6, -3, -5.5,
        -4, -8, -6.5, -5, -9, -7, -5.5, -8.5, -6, -11,
        -7.5, -9.5, -6, -12, -8, -13, -10, -14, -11.5, -12.5,
        -13, -16.5, -14, -18, -12.5, -15, -19, -13.5, -17, -16,
        -14, -18.5, -15.5, -20, -17, -13, -21, -15, -18, -16.5,
        -19, -14.5, -17, -21.5, -15, -18, -13.5, -20, -16, -14,
        -17.5, -13, -19, -15, -12, -18, -14, -16.5, -11, -15,
        -13, -10.5, -14.5, -12, -9, -13, -11.5, -8, -12, -10,
        -9, -11, -7.5, -10, -6, -9.5, -7, -5, -8, -6.5,
        -4.5, -7, -5.5, -3.5, -6, -4, -2.5, -5, -3, -4,
        -2, -3, -1.5, -2.5, -1, -3.5, -2, -1, -2.5, -1.5,
        -0.5, -2, -1, -1.5, 0, -1, -2, -0.5, -1.5, 0,
        -1, -0.5];
    var fitOverF = [3.8, 2.6, 1.8, 1.4, 1.2, 1.2, 1.2, 1.2, 1.3, 1.5, 1.7, 2.0, 2.2, 2.2, 1.9, 1.4, 1.0, 0.7, 0.5, 0.4, 0.3, 0.3, 0.2, 0.2, 0.2, 0.2, 0.2, 0.2, 0.2, 0.2];
    var bandOverF = [0.9, 0.6, 0.4, 0.4, 0.3, 0.3, 0.3, 0.3, 0.3, 0.3, 0.3, 0.3, 0.3, 0.3, 0.3, 0.3, 0.3, 0.3, 0.3, 0.3, 0.3, 0.3, 0.3, 0.3, 0.4, 0.4, 0.5, 0.7, 0.9, 1.2];
    var fitUnderF = [-0.9, -1.0, -1.1, -1.2, -1.4, -1.7, -2.0, -2.7, -3.6, -4.7, -6.0, -7.8, -9.8, -11.9, -13.8, -15.2, -15.9, -16.2, -16.0, -15.3, -14.1, -12.5, -10.5, -8.5, -6.6, -4.8, -3.3, -2.0, -1.1, -0.5];
    var bandUnderF = [1.0, 0.9, 0.8, 0.8, 0.8, 0.8, 0.8, 0.9, 1.0, 1.1, 1.2, 1.2, 1.3, 1.3, 1.3, 1.3, 1.3, 1.3, 1.3, 1.3, 1.3, 1.3, 1.3, 1.3, 1.4, 1.6, 2.0, 2.6, 3.2, 4.0];

    var overColor = "#3fcfc6", underColor = "#e88c7c";
    var fitColors = {
        over: {line: "#1818b8", bound: "#1c1c68", width: 3.6},
        under: {line: "#e21010", bound: "#8a1414", width: 4.4}
    };

    // layout of the six panels (plot box, panel letter position)
    var panels = [
        {letter: "(a)", region: "Eastern", box: [104, 14, 346, 279], lab: [12, 33], legend: true,
            over: [overA, over2A], under: [underA, under2A], fit: {over: [fitOverA, bandOverA], under: [fitUnderA, bandUnderA]}},
        {letter: "(b)", region: "Eastern", box: [563, 18, 346, 277], lab: [475, 34], legend: true,
            over: [overB, over2B], under: [underB, under2B], fit: {over: [fitOverB, bandOverB], under: [fitUnderB, bandUnderB]}},
        {letter: "(c)", region: "Western", box: [100, 369, 347, 279], lab: [12, 384], legend: false,
            over: [overC, over2C], under: [underC, under2C], fit: {over: [fitOverC, bandOverC], under: [fitUnderC, bandUnderC]}},
        {letter: "(d)", region: "Western", box: [560, 374, 346, 279], lab: [468, 384], legend: false,
            over: [overD, over2D], under: [underD, under2D], fit: {over: [fitOverD, bandOverD], under: [fitUnderD, bandUnderD]}},
        {letter: "(e)", region: "Northern", box: [103, 725, 345, 278], lab: [12, 739], legend: false,
            over: [overE, over2E], under: [underE, under2E], fit: {over: [fitOverE, bandOverE], under: [fitUnderE, bandUnderE]}},
        {letter: "(f)", region: "Northern", box: [563, 732, 346, 278], lab: [472, 737], legend: false,
            over: [overF, over2F], under: [underF, under2F], fit: {over: [fitOverF, bandOverF], under: [fitUnderF, bandUnderF]}}
    ];

    var svg = d3.select("#chart");
    var curve = d3.curveCatmullRom.alpha(0.5);

    panels.forEach(function (p, pi) {
        var bx = p.box[0], by = p.box[1], bw = p.box[2], bh = p.box[3];
        var x = d3.scaleLinear().domain([54, 217.5]).range([bx, bx + bw]);
        var y = d3.scaleLinear().domain([-32.4, 32.4]).range([by + bh, by]);
        var g = svg.append("g").attr("class", "panel");

        svg.append("clipPath").attr("id", "clip" + pi)
            .append("rect").attr("x", bx).attr("y", by).attr("width", bw).attr("height", bh);
        var inner = g.append("g").attr("clip-path", "url(#clip" + pi + ")");

        // dotted grid
        var grid = inner.append("g").attr("class", "grid");
        grid.selectAll(".gy").data(yTicks).enter().append("line")
            .attr("x1", bx).attr("x2", bx + bw)
            .attr("y1", function (d) { return y(d); }).attr("y2", function (d) { return y(d); });
        grid.selectAll(".gx").data(gridDays).enter().append("line")
            .attr("y1", by).attr("y2", by + bh)
            .attr("x1", function (d) { return x(d); }).attr("x2", function (d) { return x(d); });

        // points
        var sets = [[p.over[0], overColor], [p.over[1], overColor], [p.under[0], underColor], [p.under[1], underColor]];
        sets.forEach(function (s) {
            inner.append("g").selectAll("circle").data(s[0]).enter().append("circle")
                .attr("cx", function (d, i) { return x(obsDays[i]); })
                .attr("cy", function (d) { return y(d); })
                .attr("r", 3.4)
                .attr("fill", "none")
                .attr("stroke", s[1])
                .attr("stroke-width", 1.15);
        });

        // reference lines
        inner.selectAll(".ref").data(refLevels).enter().append("line")
            .attr("x1", bx).attr("x2", bx + bw)
            .attr("y1", function (d) { return y(d); }).attr("y2", function (d) { return y(d); })
            .attr("stroke", "#222").attr("stroke-width", 1.2).attr("stroke-dasharray", "5,4");
        inner.append("line")
            .attr("x1", bx).attr("x2", bx + bw).attr("y1", y(0)).attr("y2", y(0))
            .attr("stroke", "#111").attr("stroke-width", 1.3);

        // smooth fits with confidence band
        ["over", "under"].forEach(function (k) {
            var fit = p.fit[k][0], band = p.fit[k][1];
            var rows = fitDays.map(function (d, i) { return {day: d, v: fit[i], lo: fit[i] - band[i], hi: fit[i] + band[i]}; });
            var area = d3.area().curve(curve)
                .x(function (d) { return x(d.day); })
                .y0(function (d) { return y(d.lo); }).y1(function (d) { return y(d.hi); });
            var line = function (acc) {
                return d3.line().curve(curve).x(function (d) { return x(d.day); }).y(function (d) { return y(acc(d)); });
            };
            inner.append("path").datum(rows).attr("d", area).attr("fill", "#fff").attr("opacity", 0.9);
            inner.append("path").datum(rows).attr("d", line(function (d) { return d.hi; }))
                .attr("fill", "none").attr("stroke", fitColors[k].bound).attr("stroke-width", 1.2);
            inner.append("path").datum(rows).attr("d", line(function (d) { return d.lo; }))
                .attr("fill", "none").attr("stroke", fitColors[k].bound).attr("stroke-width", 1.2);
            inner.append("path").datum(rows).attr("d", line(function (d) { return d.v; }))
                .attr("fill", "none").attr("stroke", fitColors[k].line).attr("stroke-width", fitColors[k].width);
        });

        g.append("rect").attr("class", "frame").attr("x", bx).attr("y", by).attr("width", bw).attr("height", bh);

        // axes
        g.append("g").attr("class", "axis").attr("transform", "translate(0," + (by + bh) + ")")
            .call(d3.axisBottom(x).tickValues(monthDays).tickSize(10).tickPadding(17)
                .tickFormat(function (d, i) { return monthLabels[i]; }))
            .selectAll("text").style("font-size", "21.5px");

        g.append("g").attr("class", "axis").attr("transform", "translate(" + bx + ",0)")
            .call(d3.axisLeft(y).tickValues(yTicks).tickSize(10).tickFormat(function (d) { return Math.abs(d); }))
            .selectAll("text")
            .attr("x", 0).attr("dy", null)
            .attr("text-anchor", "middle")
            .attr("transform", "translate(-26,0) rotate(-90)")
            .style("font-size", "17px");

        g.append("text")
            .attr("transform", "translate(" + (bx - 74) + "," + y(0) + ") rotate(-90)")
            .attr("text-anchor", "middle")
            .style("font-size", "17px")
            .text("% of grid cells");

        g.append("text").attr("x", p.lab[0]).attr("y", p.lab[1])
            .style("font-size", "28px").text(p.letter);

        g.append("text").attr("x", x(76.5)).attr("y", y(23))
            .style("font-size", "23.5px").text(p.region);

        if (p.legend) {
            var lg = g.append("g").attr("transform", "translate(" + (bx + 100) + "," + (by + 204) + ")");
            lg.append("rect").attr("width", 220).attr("height", 57)
                .attr("fill", "#fff").attr("stroke", "#333").attr("stroke-width", 1.3);
            lg.selectAll("circle").data([overColor, underColor]).enter().append("circle")
                .attr("cx", 19).attr("cy", function (d, i) { return 19 + i * 20; })
                .attr("r", 3.6).attr("fill", "none").attr("stroke", function (d) { return d; })
                .attr("stroke-width", 1.8);
            lg.selectAll("text").data(legendLabels).enter().append("text")
                .attr("x", 48).attr("y", function (d, i) { return 26 + i * 20; })
                .style("font-size", "16px").text(function (d) { return d; });
        }
    });
</script>
</body>
</html>
